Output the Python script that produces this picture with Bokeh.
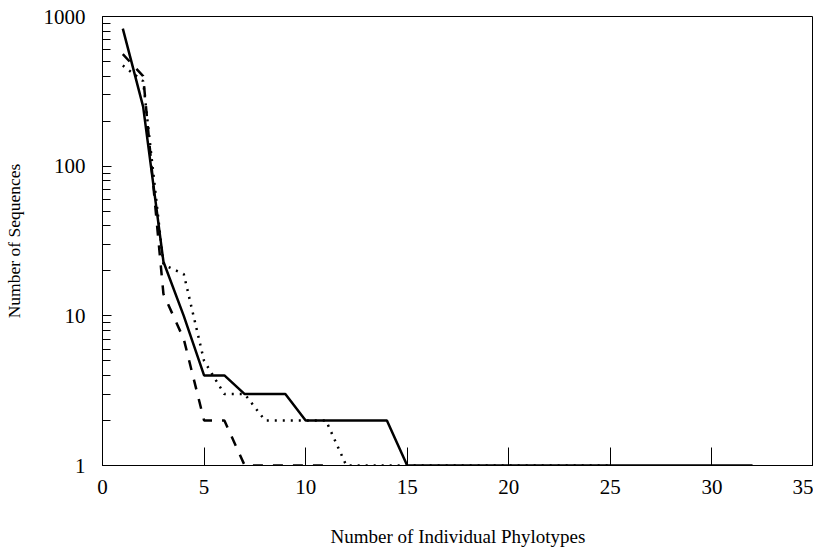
from bokeh.plotting import figure
from bokeh.models import FixedTicker, Range1d
from bokeh.embed import file_html
from bokeh.resources import INLINE

# Data
solid_x = [1, 2, 3, 4, 5, 6, 7, 8, 9, 10, 11, 12, 13, 14, 15, 16, 17, 18, 19, 20,
           21, 22, 23, 24, 25, 26, 27, 28, 29, 30, 31, 32]
solid_y = [830, 250, 23, 10, 4, 4, 3, 3, 3, 2, 2, 2, 2, 2, 1, 1, 1, 1, 1, 1,
           1, 1, 1, 1, 1, 1, 1, 1, 1, 1, 1, 1]

dashed_x = [1, 2, 3, 4, 5, 6, 7, 8, 9, 10, 11]
dashed_y = [560, 400, 14, 7, 2, 2, 1, 1, 1, 1, 1]

dotted_x = [1, 2, 3, 4, 5, 6, 7, 8, 9, 10, 11, 12, 13, 14, 15, 16, 17, 18, 19, 20,
            21, 22, 23, 24, 25]
dotted_y = [470, 370, 22, 19, 5, 3, 3, 2, 2, 2, 2, 1, 1, 1, 1, 1, 1, 1, 1, 1,
            1, 1, 1, 1, 1]

x_ticks = [0, 5, 10, 15, 20, 25, 30, 35]
y_ticks = [1, 10, 100, 1000]
y_minor = [2, 3, 4, 5, 6, 7, 8, 9, 20, 30, 40, 50, 60, 70, 80, 90,
           200, 300, 400, 500, 600, 700, 800, 900]

FONT = "Liberation Serif"

p = figure(width=813, height=549, y_axis_type="log",
           x_range=Range1d(0, 35), y_range=Range1d(1, 1000),
           output_backend="svg", toolbar_location=None,
           min_border_left=92, min_border_right=0,
           min_border_top=16, min_border_bottom=70)

p.line(dashed_x, dashed_y, line_color="black", line_width=2.5, line_dash="10 10")
p.line(dotted_x, dotted_y, line_color="black", line_width=2.5, line_dash="2 6")
p.line(solid_x, solid_y, line_color="black", line_width=2.5)

p.xgrid.visible = False
p.ygrid.visible = False
p.outline_line_color = "black"
p.outline_line_width = 1
p.outline_line_alpha = 1

p.xaxis.ticker = FixedTicker(ticks=x_ticks)
p.xaxis.major_tick_in = 18
p.xaxis.major_tick_out = 0
p.xaxis.minor_tick_in = 0
p.xaxis.minor_tick_out = 0
p.xaxis.major_label_standoff = 14
p.xaxis.axis_label = "Number of Individual Phylotypes"
p.xaxis.axis_label_standoff = 29

p.yaxis.ticker = FixedTicker(ticks=y_ticks, minor_ticks=y_minor)
p.yaxis.major_label_overrides = {1: "1", 10: "10", 100: "100", 1000: "1000"}
p.yaxis.major_tick_in = 9
p.yaxis.major_tick_out = 0
p.yaxis.minor_tick_in = 8
p.yaxis.minor_tick_out = 0
p.yaxis.major_label_standoff = 17
p.yaxis.axis_label = "Number of Sequences"
p.yaxis.axis_label_standoff = 17

for ax in (p.xaxis, p.yaxis):
    ax.axis_line_color = "black"
    ax.major_tick_line_color = "black"
    ax.minor_tick_line_color = "black"
    ax.major_label_text_font = FONT
    ax.major_label_text_font_size = "21px"
    ax.major_label_text_color = "black"
    ax.axis_label_text_font = FONT
    ax.axis_label_text_font_style = "normal"
    ax.axis_label_text_color = "black"

p.xaxis.axis_label_text_font_size = "19px"
p.yaxis.axis_label_text_font_size = "17.5px"

open("out.html", "w").write(file_html(p, INLINE))
